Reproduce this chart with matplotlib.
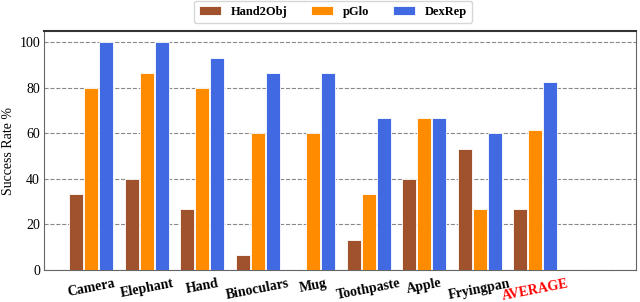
import matplotlib
matplotlib.use("Agg")
import matplotlib.pyplot as plt
import numpy as np

categories = ["Camera", "Elephant", "Hand", "Binoculars", "Mug", "Toothpaste", "Apple", "Fryingpan", "AVERAGE"]
hand2obj = [33.3, 40.0, 26.7, 6.7, 0.0, 13.3, 40.0, 53.3, 26.7]
pglo = [80.0, 86.7, 80.0, 60.0, 60.0, 33.3, 66.7, 26.7, 61.7]
dexrep = [100.0, 100.0, 93.3, 86.7, 86.7, 66.7, 66.7, 60.0, 82.5]
series_names = ["Hand2Obj", "pGlo", "DexRep"]
colors = ["#A0522D", "#FF8C00", "#4169E1"]
yticks = [0, 20, 40, 60, 80, 100]

plt.rcParams['font.family'] = ['Liberation Serif', 'DejaVu Serif']

fig = plt.figure(figsize=(6.4, 3.02), dpi=100)
ax = fig.add_axes([0.069, 0.106, 0.925, 0.791])

x = np.arange(len(categories))
w = 0.25
for i, (vals, name, c) in enumerate(zip([hand2obj, pglo, dexrep], series_names, colors)):
    ax.bar(x + (i - 1) * 0.27, vals, width=w, color=c, edgecolor="white", linewidth=0.6, label=name, zorder=3)

ax.set_xlim(-0.85, 9.82)
ax.set_ylim(0, 105)
ax.set_yticks(yticks)
ax.set_yticklabels([str(t) for t in yticks], fontsize=10)
ax.yaxis.grid(True, linestyle="--", color="#888888", linewidth=0.8, zorder=0)
ax.set_ylabel("Success Rate %", fontsize=10, labelpad=3)
ax.set_xticks(x)
ax.set_xticklabels(categories, rotation=11, fontsize=10, fontweight="bold")
ax.get_xticklabels()[-1].set_color("red")
ax.tick_params(axis="x", direction="in", length=3, color="#333333", pad=5)
ax.tick_params(axis="y", length=0, pad=3)

for s in ["left", "bottom", "right"]:
    ax.spines[s].set_color("#666666")
    ax.spines[s].set_linewidth(0.8)
ax.spines["top"].set_color("#333333")
ax.spines["top"].set_linewidth(1.5)

leg = ax.legend(loc="lower center", bbox_to_anchor=(0.488, 1.035), ncol=3, frameon=True,
                prop={"weight": "bold", "size": 9}, handlelength=1.75, handletextpad=0.8,
                columnspacing=1.9, borderaxespad=0, fancybox=True)
leg.get_frame().set_edgecolor("#cccccc")

fig.savefig("out.png", dpi=100)
